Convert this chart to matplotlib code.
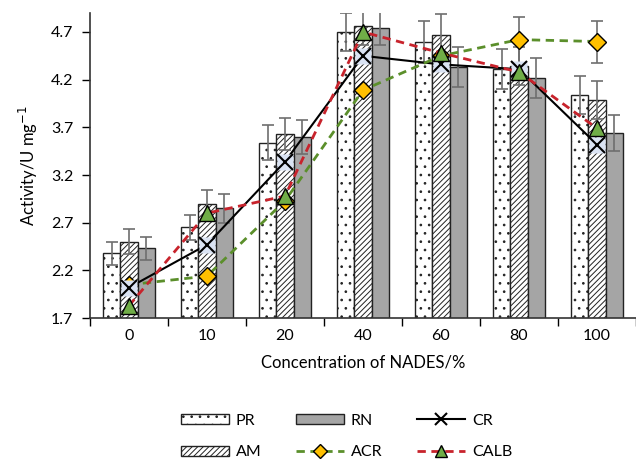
import numpy as np
import matplotlib
matplotlib.use("Agg")
from matplotlib import pyplot as plt
from matplotlib.lines import Line2D
from matplotlib.patches import Patch

plt.rcParams['font.family'] = ['Lato', 'DejaVu Sans']
plt.rcParams['hatch.linewidth'] = 0.7

# concentration categories
conc = ['0', '10', '20', '40', '60', '80', '100']

# bar series (value, error)
pr = [2.38, 2.65, 3.54, 4.70, 4.60, 4.31, 4.04]
pr_err = [0.12, 0.13, 0.18, 0.20, 0.22, 0.21, 0.20]
am = [2.50, 2.90, 3.63, 4.76, 4.67, 4.34, 3.99]
am_err = [0.13, 0.14, 0.17, 0.20, 0.22, 0.20, 0.20]
rn = [2.43, 2.85, 3.60, 4.74, 4.33, 4.22, 3.64]
rn_err = [0.12, 0.15, 0.18, 0.18, 0.21, 0.21, 0.19]

# line series
cr = [2.02, 2.47, 3.34, 4.45, 4.36, 4.31, 3.52]
acr = [2.05, 2.14, 2.93, 4.09, 4.45, 4.62, 4.60]
acr_err = [0.0, 0.0, 0.0, 0.0, 0.0, 0.24, 0.22]
calb = [1.83, 2.80, 2.98, 4.70, 4.48, 4.28, 3.69]

fig = plt.figure(figsize=(6.36, 4.61), dpi=100)
ax = fig.add_axes([0.1415, 0.31, 0.8585, 0.662])

x = np.arange(len(conc))
w = 0.22
err_kw = dict(ecolor='#6e6e6e', elinewidth=1.2, capsize=4, capthick=1.2)

ax.bar(x - w, pr, w, yerr=pr_err, color='white', edgecolor='#222222',
       hatch='..', linewidth=1, error_kw=err_kw, zorder=2)
ax.bar(x, am, w, yerr=am_err, color='white', edgecolor='#222222',
       hatch='//////', linewidth=1, error_kw=err_kw, zorder=2)
ax.bar(x + w, rn, w, yerr=rn_err, color='#a5a5a5', edgecolor='#222222',
       linewidth=1, error_kw=err_kw, zorder=2)

# CR: light blue square behind an x
ax.plot(x, cr, color='black', lw=1.5, zorder=4)
ax.plot(x, cr, ls='none', marker='s', ms=12, mfc='#dae3f3', mec='none', zorder=5)
ax.plot(x, cr, ls='none', marker='x', ms=11, mew=1.5, color='black', zorder=6)

# ACR
ax.errorbar(x[5:], acr[5:], yerr=acr_err[5:], fmt='none', zorder=4, **err_kw)
ax.plot(x, acr, color='#5b8f2b', lw=2, ls=(0, (3, 2)), zorder=4,
        marker='D', ms=9, mfc='#ffc000', mec='black', mew=1)

# CALB
ax.plot(x, calb, color='#c8232c', lw=2, ls=(0, (3, 2)), zorder=7,
        marker='^', ms=11, mfc='#70ad47', mec='black', mew=1)

ax.set_xlim(-0.5, 6.5)
ax.set_ylim(1.7, 4.9)
ax.set_yticks(np.arange(1.7, 4.71, 0.5))
ax.set_yticklabels([f'{v:.1f}' for v in np.arange(1.7, 4.71, 0.5)])
ax.set_xticks(x)
ax.set_xticklabels(conc)
ax.set_xticks(np.arange(-0.5, 6.6, 1), minor=True)
ax.tick_params(axis='x', which='major', length=0, pad=8, labelsize=11.5)
ax.tick_params(axis='x', which='minor', length=6, width=1, direction='out')
ax.tick_params(axis='y', length=6, width=1, labelsize=11.5, pad=6)
for s in ['top', 'right']:
    ax.spines[s].set_visible(False)
for s in ['left', 'bottom']:
    ax.spines[s].set_linewidth(1.2)
    ax.spines[s].set_color('#333333')

ax.set_xlabel('Concentration of NADES/%', fontsize=12, labelpad=8)
ax.set_ylabel('Activity/U mg$^{-1}$', fontsize=12, labelpad=8)

handles = [
    Patch(facecolor='white', edgecolor='#222222', hatch='..', label='PR'),
    Patch(facecolor='white', edgecolor='#222222', hatch='//////', label='AM'),
    Patch(facecolor='#a5a5a5', edgecolor='#222222', label='RN'),
    Line2D([], [], color='#5b8f2b', lw=2, ls=(0, (3, 2)), marker='D', ms=7,
           mfc='#ffc000', mec='black', label='ACR'),
    Line2D([], [], color='black', lw=1.5, marker='x', ms=8, mew=1.5, label='CR'),
    Line2D([], [], color='#c8232c', lw=2, ls=(0, (3, 2)), marker='^', ms=8,
           mfc='#70ad47', mec='black', label='CALB'),
]
fig.legend(handles=handles, ncol=3, loc='center', bbox_to_anchor=(0.545, 0.053),
           frameon=False, fontsize=11.5, handlelength=3.0, handleheight=0.6,
           handletextpad=0.4, columnspacing=2.2, labelspacing=1.1)

fig.savefig('out.png', dpi=100)
